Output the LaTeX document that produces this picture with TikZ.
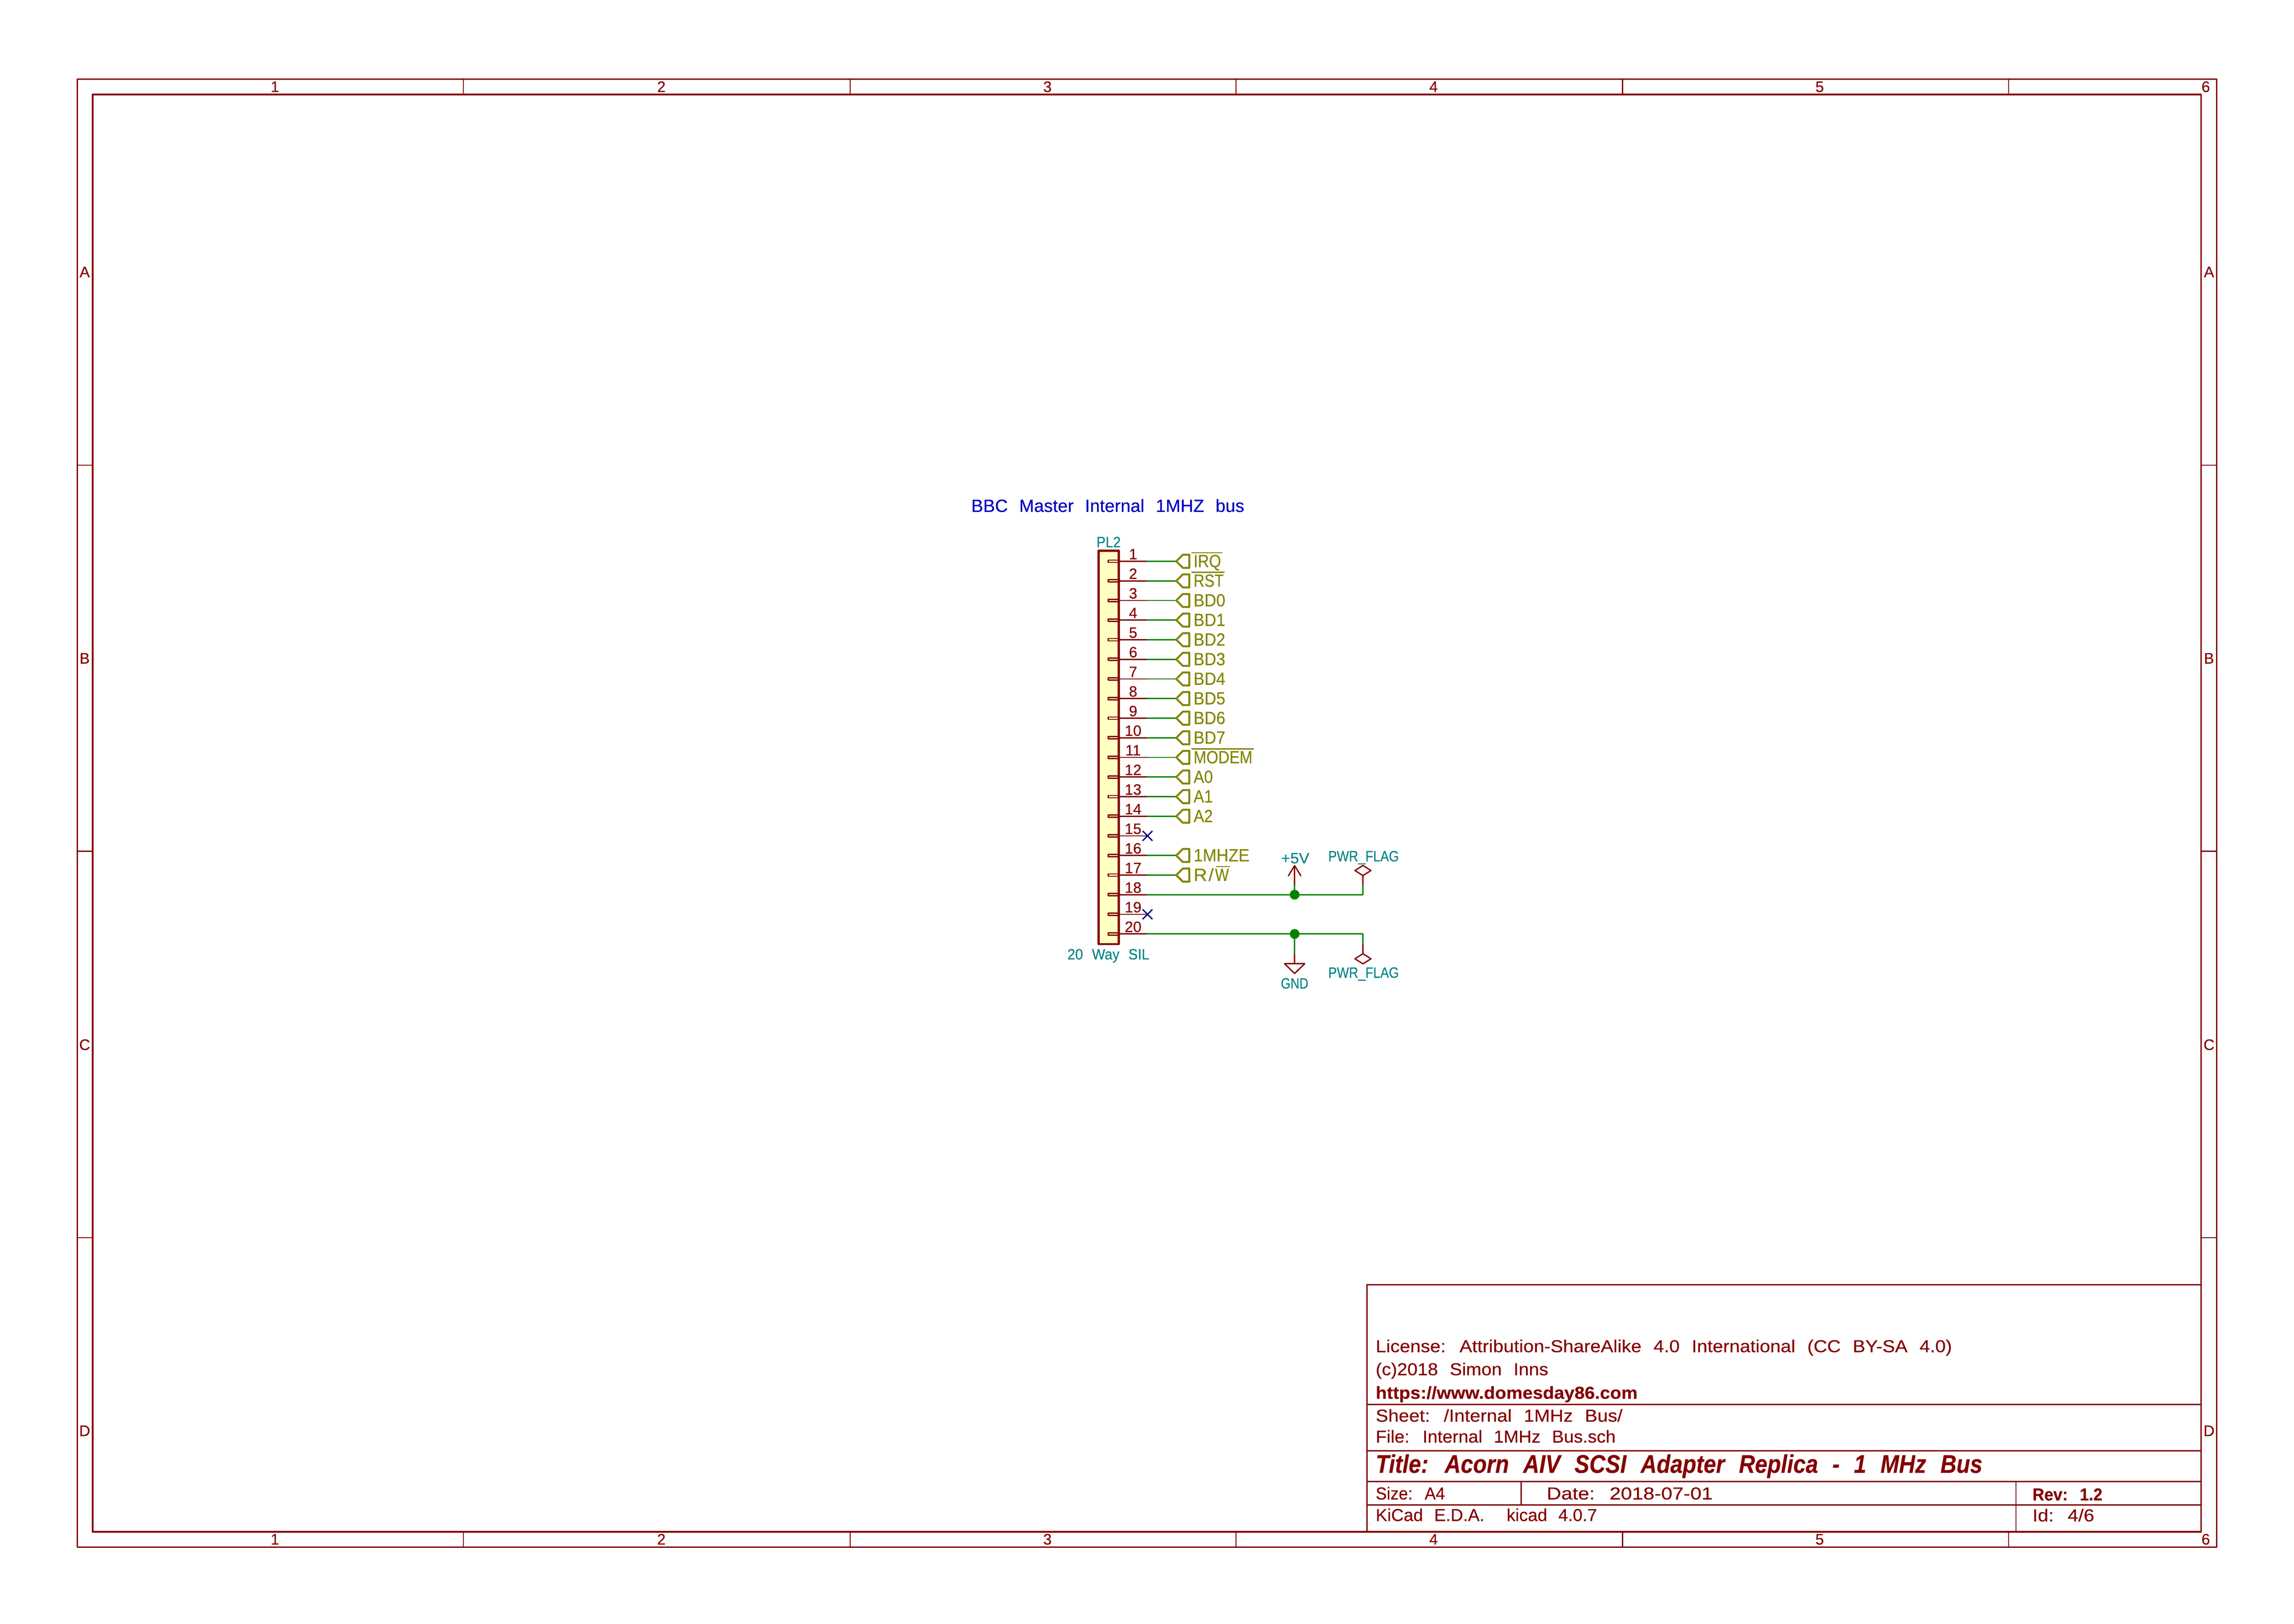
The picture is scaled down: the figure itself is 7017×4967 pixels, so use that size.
\documentclass[tikz,border=0pt]{standalone}
\usepackage{graphicx}
\usepackage{fontspec}
\setmainfont[WordSpace=2.3,FakeBold=0.35]{Liberation Sans}
\newlength\kpx \setlength\kpx{0.12pt}
\newcommand\fitw[2]{\resizebox{#1\kpx}{\height}{#2}}
\newcommand\rwtxt{R\kern4\kpx/\kern4\kpx\fitw{40}{W}}
\definecolor{kred}{RGB}{132,0,0}
\definecolor{kgreen}{RGB}{0,132,0}
\definecolor{kolive}{RGB}{132,132,0}
\definecolor{kteal}{RGB}{0,132,132}
\definecolor{knavy}{RGB}{0,0,132}
\definecolor{kblue}{RGB}{0,0,194}
\definecolor{kfill}{RGB}{255,255,194}
\tikzset{
  every node/.style={inner sep=0pt,outer sep=0pt},
  framel/.style={draw=kred,line width=0.54pt,line cap=round,line join=round},
  tickl/.style={draw=kred,line width=0.36pt},
  pinl/.style={draw=kred,line width=0.48pt,line cap=round,line join=round},
  wirel/.style={draw=kgreen,line width=0.48pt,line join=round},
  boxl/.style={draw=kred,fill=kfill,line width=0.78pt,line join=round},
  labl/.style={draw=kolive,line width=0.72pt,line join=round},
  ncl/.style={draw=knavy,line width=0.48pt},
  junc/.style={circle,fill=kgreen,minimum size=3.6pt},
  frametxt/.style={anchor=base,text=kred,font=\fontsize{5.6pt}{6pt}\selectfont},
  pintxt/.style={anchor=base,text=kred,font=\fontsize{5.5pt}{6pt}\selectfont},
  labtxt/.style={anchor=base west,text=kolive,font=\fontsize{6.5pt}{7pt}\selectfont},
  refttxt/.style={anchor=base west,text=kteal,font=\fontsize{5.5pt}{6pt}\selectfont},
  commtxt/.style={anchor=base west,text=kblue,font=\fontsize{6.5pt}{7pt}\selectfont},
  tbtxt/.style={anchor=base west,text=kred,font=\fontsize{6.36pt}{7pt}\selectfont},
  tbbold/.style={anchor=base west,text=kred,font=\fontsize{6.36pt}{7pt}\selectfont\bfseries},
  tbtitle/.style={anchor=base west,text=kred,font=\fontsize{9.36pt}{10pt}\selectfont\bfseries\itshape},
}
\begin{document}
\begin{tikzpicture}[x=0.12pt,y=-0.12pt]
\useasboundingbox (0,0) rectangle (7017,4967);
% sheet frame
\draw[framel] (237,242) rectangle (6780,4733);
\draw[framel] (283.5,289) rectangle (6733,4686);
\foreach \x in {1418,2600,3781,4963,6144} {
  \draw[tickl] (\x,242) -- (\x,289);
  \draw[tickl] (\x,4686) -- (\x,4733);
}
\foreach \y in {1423,2604,3786} {
  \draw[tickl] (237,\y) -- (283.5,\y);
  \draw[tickl] (6733,\y) -- (6780,\y);
}
\foreach \t/\x in {1/841,2/2023,3/3204,4/4385,5/5566,6/6747} {
  \node[frametxt] (coltop\t) at (\x,281.5) {\t};
  \node[frametxt] (colbot\t) at (\x,4725) {\t};
}
\foreach \t/\y in {A/848,B/2030,C/3212,D/4393} {
  \node[frametxt] (rowl\t) at (259,\y) {\t};
  \node[frametxt] (rowr\t) at (6757,\y) {\t};
}
% title block
\draw[framel] (4181,3930) -- (6733,3930);
\draw[framel] (4181,3930) -- (4181,4686);
\draw[framel] (4181,4296) -- (6733,4296);
\draw[framel] (4181,4438) -- (6733,4438);
\draw[framel] (4181,4532) -- (6733,4532);
\draw[framel] (4181,4603.5) -- (6733,4603.5);
\draw[tickl] (4653,4532) -- (4653,4603.5);
\draw[tickl] (6166,4532) -- (6166,4686);
\node[tbtxt] (lic) at (4208,4136.5) {\fitw{1763}{License: Attribution-ShareAlike 4.0 International (CC BY-SA 4.0)}};
\node[tbtxt] (copy) at (4208,4207) {\fitw{528}{(c)2018 Simon Inns}};
\node[tbbold] (url) at (4208,4279) {\fitw{801}{https://www.domesday86.com}};
\node[tbtxt] (sheet) at (4208,4349) {\fitw{755}{Sheet: /Internal 1MHz Bus/}};
\node[tbtxt] (file) at (4208,4413) {\fitw{734}{File: Internal 1MHz Bus.sch}};
\node[tbtitle] (title) at (4208,4505.5) {\fitw{1856}{Title: Acorn AIV SCSI Adapter Replica - 1 MHz Bus}};
\node[tbtxt] (size) at (4208,4587) {\fitw{212}{Size: A4}};
\node[tbtxt] (date) at (4731,4587) {\fitw{508}{Date: 2018-07-01}};
\node[tbbold] (rev) at (6217,4590) {\fitw{214}{Rev: 1.2}};
\node[tbtxt] (kicad) at (4208,4653) {\fitw{677}{KiCad E.D.A.\ \ kicad 4.0.7}};
\node[tbtxt] (id) at (6217,4654) {\fitw{189}{Id: 4/6}};
% comment and connector body
\node[commtxt] (comment) at (2971,1566) {\fitw{835}{BBC Master Internal 1MHZ bus}};
\draw[boxl] (3360,1685) rectangle (3422,2888);
\node[refttxt] (ref) at (3354,1674) {\fitw{74}{PL2}};
\node[refttxt] (val) at (3265,2935) {\fitw{251}{20 Way SIL}};
% pins
\foreach \i in {1,...,20} {
  \pgfmathsetmacro\py{1717+60*(\i-1)}
  \draw[pinl] (3390,\py-3.5) rectangle (3422,\py+3.5);
  \draw[pinl] (3422,\py) -- (3509,\py);
  \node[pintxt] (num\i) at (3466,\py-6) {\i};
}
% global labels
\foreach \i/\t/\w in {1/IRQ/84,2/RST/92,3/BD0/97,4/BD1/97,5/BD2/97,6/BD3/97,7/BD4/97,8/BD5/97,9/BD6/97,10/BD7/97,11/MODEM/180,12/A0/59,13/A1/59,14/A2/59,16/1MHZE/171,17/\rwtxt/108} {
  \pgfmathsetmacro\py{1717+60*(\i-1)}
  \draw[wirel] (3509,\py) -- (3598,\py);
  \draw[labl] (3598,\py) -- (3618,\py-20) -- (3638,\py-20) -- (3638,\py+20) -- (3618,\py+20) -- cycle;
  \node[labtxt] (txt\i) at (3651,\py+18) {\fitw{\w}{\t}};
}
\foreach \i/\a/\b in {1/3645/3739,2/3645/3745,11/3645/3835,17/3719/3762} {
  \pgfmathsetmacro\py{1717+60*(\i-1)-26}
  \draw[draw=kolive,line width=0.48pt] (\a,\py) -- (\b,\py);
}
% no-connect marks
\foreach \i in {15,19} {
  \pgfmathsetmacro\py{1717+60*(\i-1)}
  \draw[ncl] (3495,\py-15) -- (3525,\py+15);
  \draw[ncl] (3495,\py+15) -- (3525,\py-15);
}
% power nets
\node[junc] (j18) at (3960,2737) {};
\node[junc] (j20) at (3960,2857) {};
\coordinate (pb18) at (3509,2737);
\coordinate (pb20) at (3509,2857);
\coordinate (c18) at (4169,2737);
\coordinate (c20) at (4169,2857);
\coordinate (p5) at (3960,2706);
\coordinate (pf1) at (4169,2706);
\coordinate (g1) at (3960,2919);
\coordinate (pf2) at (4169,2889);
\draw[wirel] (pb18) -- (j18) -- (c18) -- (pf1);
\draw[wirel] (j18) -- (p5);
\draw[wirel] (pb20) -- (j20) -- (c20) -- (pf2);
\draw[wirel] (j20) -- (g1);
% +5V symbol
\coordinate (tip5) at (3960,2648);
\draw[pinl] (p5) -- (tip5);
\draw[pinl] (3941,2679) -- (tip5) -- (3979,2679);
\node[refttxt] (v5) at (3919,2641) {\fitw{86}{+5V}};
% GND symbol
\coordinate (g2) at (3960,2948);
\draw[pinl] (g1) -- (g2);
\draw[pinl] (3929,2948) -- (3991,2948) -- (3960,2978) -- cycle;
\node[refttxt] (gnd) at (3918,3024) {\fitw{84}{GND}};
% PWR_FLAG symbols
\coordinate (d1) at (4169,2678);
\draw[pinl] (pf1) -- (d1);
\draw[pinl] (4169,2678.5) -- (4193.5,2663) -- (4169,2647.5) -- (4144.5,2663) -- cycle;
\node[refttxt] (flag1) at (4063,2635) {\fitw{216}{PWR\_FLAG}};
\coordinate (d2) at (4169,2918);
\draw[pinl] (pf2) -- (d2);
\draw[pinl] (4169,2948.5) -- (4193.5,2933) -- (4169,2917.5) -- (4144.5,2933) -- cycle;
\node[refttxt] (flag2) at (4063,2991) {\fitw{216}{PWR\_FLAG}};
\end{tikzpicture}
\end{document}
